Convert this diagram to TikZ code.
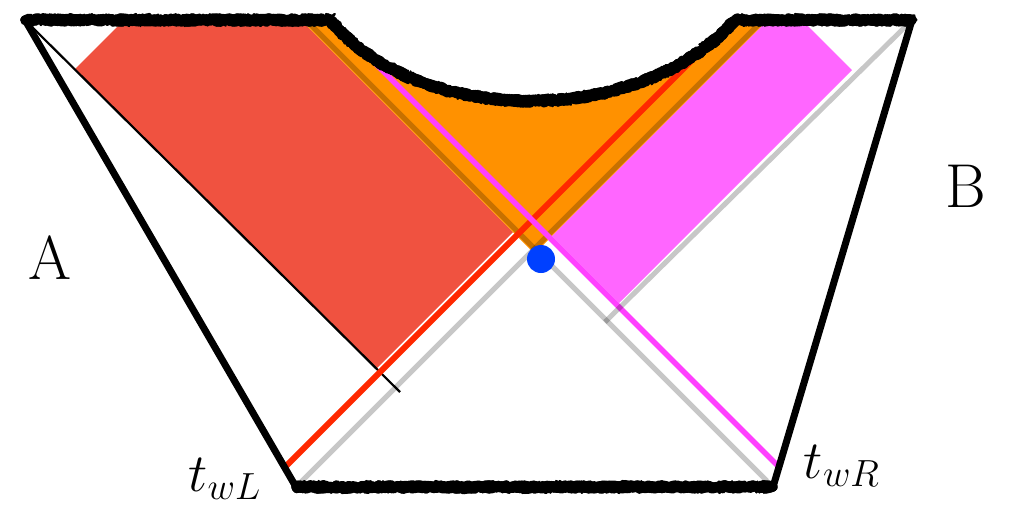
\RequirePackage{fix-cm}
\documentclass[tikz,border=0pt]{standalone}
\usetikzlibrary{decorations.pathmorphing}
\definecolor{regred}{RGB}{240,82,64}
\definecolor{regorange}{RGB}{255,145,0}
\definecolor{regmagenta}{RGB}{255,102,255}
\definecolor{linemagenta}{RGB}{255,64,255}
\definecolor{linered}{RGB}{255,40,0}
\definecolor{dotblue}{RGB}{0,64,255}

\begin{document}
\begin{tikzpicture}[x=0.5pt, y=-0.5pt,
    bound/.style={line width=3.5pt, line join=round},
    horizon/.style={line width=2.5pt, black, opacity=0.22},
    sing/.style={line width=4.6pt, line join=round, line cap=round, decorate, decoration={random steps, segment length=1.2pt, amplitude=1.1pt}},
    singrough/.style={line width=1.2pt, line join=round, decorate, decoration={random steps, segment length=0.8pt, amplitude=3pt}},
    lbl/.style={font=\fontsize{31}{36}\selectfont, inner sep=0pt},
    tlbl/.style={font=\fontsize{27}{32}\selectfont, inner sep=0pt}]
        \pgfmathsetseed{11}
        \useasboundingbox (0,0) rectangle (1009,505);
        \coordinate (TL) at (25,20);
        \coordinate (TR) at (912,20);
        \coordinate (BL) at (296,487);
        \coordinate (BR) at (773,487);
        \fill [regred] (124,20) -- (74.7,69.3) -- (376.4,368.6) -- (513,232) -- (301,20) -- cycle;
        \fill [regorange] (534.5,253.5) -- (301,20) -- (330,20) .. controls (420,128) and (640,128) .. (735,20) -- (768,20) -- cycle;
        \fill [regmagenta] (552,236) -- (768,20) -- (802,20) -- (852,70) -- (619,303) -- cycle;
        \draw [horizon] (300,483) -- (763,20);
        \draw [horizon] (767,481) -- (306,20);
        \draw [line width=1.1pt] (TL) -- (400,392);
        \draw [linered, line width=3pt] (284.6,467.4) -- (705,47);
        \draw [linemagenta, line width=2.8pt] (332,20) -- (779,467);
        \draw [horizon] (907,25) -- (605,322);
        \draw [bound] (TL) -- (BL);
        \draw [bound] (TR) -- (BR);
        \foreach \k in {1,...,4} {
          \draw [sing] (TL) -- (330,20) .. controls (420,128) and (640,128) .. (735,20) -- (TR);
          \draw [sing] (BL) -- (BR);
        }
        \foreach \k in {1,2} {
          \draw [singrough] (TL) -- (330,20) .. controls (420,128) and (640,128) .. (735,20) -- (TR);
          \draw [singrough] (BL) -- (BR);
        }
        \node [circle, fill=dotblue, minimum size=14pt, inner sep=0pt] (dot) at (541,259) {};
        \node [lbl] (labA) at (50,258) {A};
        \node [lbl] (labB) at (966,186) {B};
        \node [tlbl] (twL) at (225,479) {$t_{wL}$};
        \node [tlbl] (twR) at (842,466) {$t_{wR}$};
\end{tikzpicture}
\end{document}
